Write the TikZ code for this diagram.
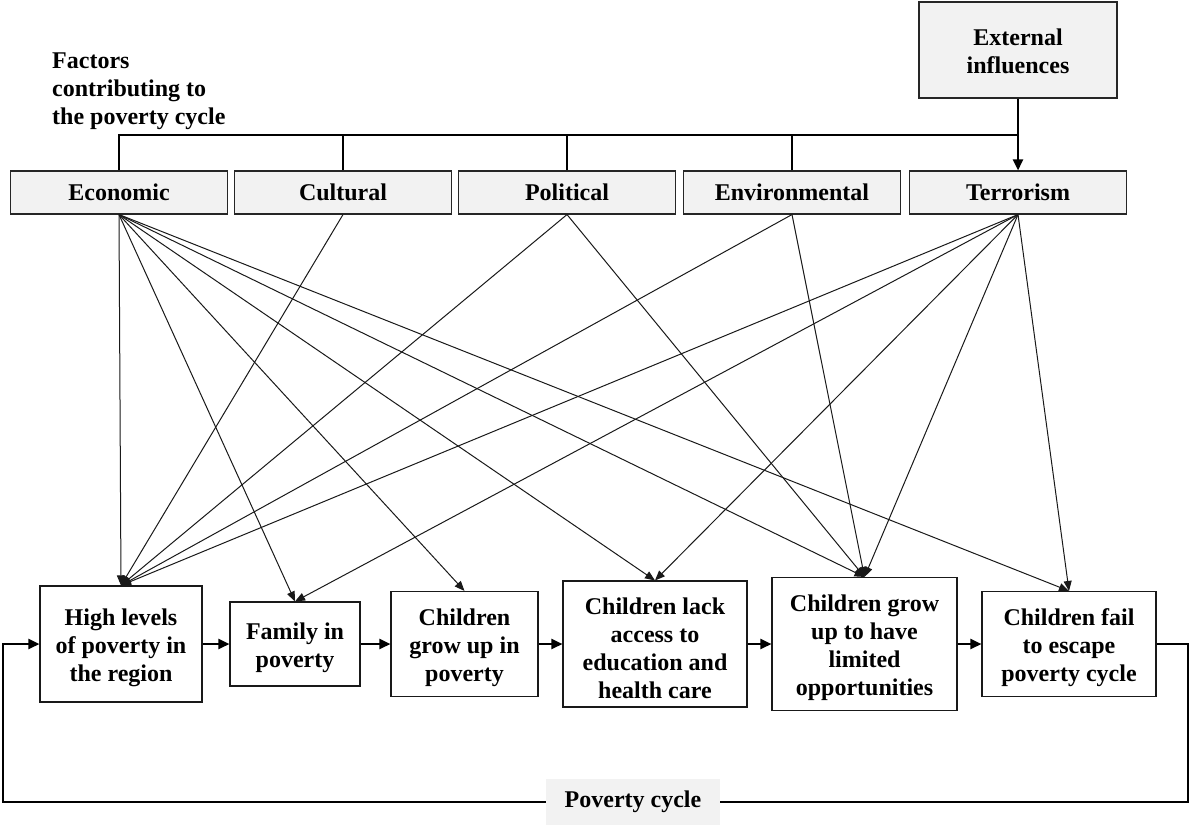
\documentclass[tikz,border=0pt]{standalone}
\usepackage{fontspec}
\setmainfont{Liberation Serif}
\usetikzlibrary{arrows.meta}
\definecolor{boxgray}{HTML}{F2F2F2}
\begin{document}
\begin{tikzpicture}[x=1pt,y=-1pt,
  every node/.style={font=\fontsize{24}{28}\selectfont\bfseries, align=center, inner sep=0pt},
  factor/.style={draw=black!85, line width=1.1pt, fill=boxgray, minimum width=217pt, minimum height=43pt},
  stage/.style={draw=black!90, line width=1.1pt, fill=white},
  stagetext/.style={yshift=-4pt},
  flow/.style={line width=2.2pt, -{Triangle[length=11pt,width=10pt]}},
  link/.style={line width=1pt, draw=black!90, -{Triangle[length=10pt,width=8pt]}},
  tick/.style={line width=1.2pt},
  busline/.style={line width=1.8pt},
  loopline/.style={line width=2.4pt}]
\useasboundingbox (0,0) rectangle (1190,825);

% title
\node[anchor=north west, align=left] (title) at (52,53) {Factors\\contributing to\\the poverty cycle};

% external influences
\node[draw=black!85, line width=1.1pt, fill=boxgray, minimum width=198pt, minimum height=96pt] (ext) at (1018,50) {};
\node[yshift=-1pt] (extt) at (ext) {External\\influences};

% factor boxes
\node[factor] (eco) at (119,192.5) {Economic};
\node[factor] (cul) at (343,192.5) {Cultural};
\node[factor] (pol) at (567,192.5) {Political};
\node[factor] (env) at (792,192.5) {Environmental};
\node[factor] (ter) at (1018,192.5) {Terrorism};

% bus
\coordinate (busR) at (1018,135);
\draw[busline] (eco.north) -- (eco.north |- busR) -- (busR);
\draw[tick] (cul.north) -- (cul.north |- busR);
\draw[tick] (pol.north) -- (pol.north |- busR);
\draw[tick] (env.north) -- (env.north |- busR);
\draw[tick] (ext.south) -- (busR);
\draw[line width=2.2pt, -{Triangle[length=11pt,width=10pt]}] (busR) -- (ter.north);

% stage boxes
\node[stage, minimum width=162pt, minimum height=116pt] (b1) at (121,644) {};
\node[stage, minimum width=130pt, minimum height=84pt] (b2) at (295,644) {};
\node[stage, minimum width=147pt, minimum height=105pt] (b3) at (464.5,644) {};
\node[stage, minimum width=184pt, minimum height=126pt] (b4) at (655,644) {};
\node[stage, minimum width=185pt, minimum height=133pt] (b5) at (864.5,644) {};
\node[stage, minimum width=174pt, minimum height=105pt] (b6) at (1069,644) {};
\node[stagetext] (b1t) at (b1) {High levels\\of poverty in\\the region};
\node[stagetext] (b2t) at (b2) {Family in\\poverty};
\node[stagetext] (b3t) at (b3) {Children\\grow up in\\poverty};
\node[stagetext] (b4t) at (b4) {Children lack\\access to\\education and\\health care};
\node[stagetext] (b5t) at (b5) {Children grow\\up to have\\limited\\opportunities};
\node[stagetext] (b6t) at (b6) {Children fail\\to escape\\poverty cycle};

% flow arrows
\draw[flow] (b1.east) -- (b2.west);
\draw[flow] (b2.east) -- (b3.west);
\draw[flow] (b3.east) -- (b4.west);
\draw[flow] (b4.east) -- (b5.west);
\draw[flow] (b5.east) -- (b6.west);

% factor links
\foreach \t in {b1,b2,b3,b4,b5,b6} \draw[link] (eco.south) -- (\t.north);
\draw[link] (cul.south) -- (b1.north);
\foreach \t in {b1,b5} \draw[link] (pol.south) -- (\t.north);
\foreach \t in {b1,b5} \draw[link] (env.south) -- (\t.north);
\foreach \t in {b1,b2,b4,b5,b6} \draw[link] (ter.south) -- (\t.north);

% poverty cycle loop
\node[fill=boxgray, minimum width=174pt, minimum height=46pt] (pc) at (633,802) {Poverty cycle};
\coordinate (cr) at (1188,802);
\coordinate (cl) at (3,802);
\draw[loopline] (b6.east) -| (cr) -- (pc.east);
\draw[loopline, -{Triangle[length=11pt,width=10pt]}] (pc.west) -- (cl) |- (b1.west);
\end{tikzpicture}
\end{document}
